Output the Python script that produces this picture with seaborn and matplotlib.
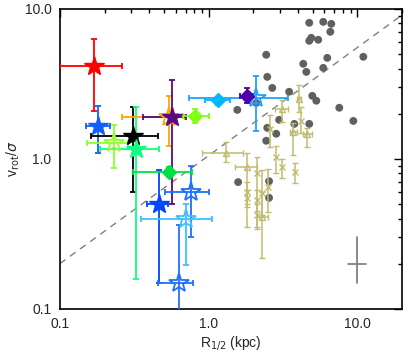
import numpy as np
import pandas as pd
import matplotlib
matplotlib.use('Agg')
import matplotlib.pyplot as plt
import seaborn as sns
from matplotlib.ticker import LogLocator, FixedLocator, FixedFormatter, NullFormatter

# --- data ---
# coloured galaxies: R_1/2 (kpc), v_rot/sigma, with asymmetric error ranges
gal_r = [0.169, 0.180, 0.310, 0.231, 0.325, 0.542, 0.568, 0.464, 0.762, 0.705, 0.633, 2.09,
         0.811, 0.542, 1.16, 1.82]
gal_v = [4.17, 1.66, 1.42, 1.28, 1.17, 1.91, 1.91, 0.50, 0.60, 0.40, 0.149, 2.55,
         1.94, 0.82, 2.47, 2.63]
gal_r_lo = [0.100, 0.150, 0.162, 0.152, 0.186, 0.262, 0.362, 0.385, 0.509, 0.35, 0.457, 0.74,
            0.673, 0.31, 0.95, 1.63]
gal_r_hi = [0.262, 0.217, 0.457, 0.287, 0.463, 0.695, 0.70, 0.533, 1.0, 1.05, 0.786, 3.43,
            1.0, 0.774, 1.39, 1.99]
gal_v_lo = [2.09, 1.10, 0.60, 0.87, 0.158, 1.22, 0.50, 0.149, 0.30, 0.197, 0.05, 1.54,
            1.74, 0.76, 2.30, 2.36]
gal_v_hi = [6.3, 2.26, 2.22, 1.69, 2.2, 2.63, 3.36, 0.845, 0.90, 0.50, 0.363, 3.58,
            2.15, 0.88, 2.60, 2.95]
gal_kind = ['star', 'star', 'star', 'ostar', 'star', 'ostar', 'star', 'star', 'ostar', 'ostar', 'ostar', 'ostar',
            'diamond', 'diamond', 'diamond', 'diamond']
gal_color = ['#FF0000', '#1060FF', '#000000', '#90FF30', '#10FF80', '#FFA500', '#5A0A80', '#0045FF',
             '#1E6EFF', '#40C0FF', '#2070FF', '#20A0FF',
             '#80FF10', '#00E040', '#00B8FF', '#5000A8']

# khaki comparison sample (triangles have x and y errors)
tri_r = [1.31, 1.82, 2.29, 3.13, 3.71, 4.61, 4.07]
tri_v = [1.10, 0.88, 0.41, 2.15, 1.51, 1.47, 2.51]
tri_r_lo = [0.905, 1.51, 2.11, 2.80, 3.55, 4.33, 3.95]
tri_r_hi = [1.71, 2.11, 2.52, 3.43, 3.90, 4.96, 4.20]
tri_v_lo = [0.95, 0.35, 0.219, 1.76, 1.06, 1.20, 2.06]
tri_v_hi = [1.29, 1.10, 0.60, 2.47, 1.74, 1.61, 3.11]

# khaki crosses (y errors only)
x_r = [2.60, 4.20, 2.85, 3.13, 3.81, 2.11, 1.82, 1.82, 2.11, 2.29, 2.52, 2.11]
x_v = [1.58, 1.79, 1.03, 0.88, 0.82, 0.81, 0.60, 0.55, 0.53, 0.59, 0.65, 0.42]
x_v_lo = [1.20, 1.49, 0.81, 0.75, 0.69, 0.34, 0.50, 0.48, 0.45, 0.42, 0.44, 0.35]
x_v_hi = [1.96, 2.22, 1.22, 1.00, 0.94, 1.03, 0.70, 0.62, 0.62, 0.84, 0.86, 0.50]

# grey comparison galaxies
grey_r = [4.75, 5.90, 6.68, 6.58, 4.90, 4.75, 5.46, 2.44, 10.97, 6.28, 4.33, 5.90, 4.54, 2.48,
          2.68, 3.48, 4.98, 5.30, 2.09, 1.56, 7.56, 2.98, 9.40, 2.48, 4.75, 3.77, 2.85, 2.44,
          1.58, 2.55, 2.55]
grey_v = [8.07, 8.19, 7.94, 7.03, 6.41, 6.12, 6.22, 4.94, 4.79, 4.71, 4.30, 4.04, 3.80, 3.52,
          2.97, 2.80, 2.63, 2.44, 2.36, 2.12, 2.19, 1.82, 1.79, 1.61, 1.71, 1.71, 1.47, 1.32,
          0.70, 0.71, 0.55]

# dashed reference line end points and typical error cross
line_r = [0.1, 20.0]
line_v = [0.2, 9.1]
cross_r, cross_v = 10.0, 0.2
cross_r_rng = [8.7, 11.5]
cross_v_rng = [0.149, 0.30]

sns.set_style('white')
plt.rcParams['font.family'] = ['Liberation Sans', 'DejaVu Sans']

fig = plt.figure(figsize=(4.07, 3.53), dpi=100)
ax = fig.add_axes([0.147, 0.125, 0.841, 0.850])
ax.set_xscale('log')
ax.set_yscale('log')

# grey sample via seaborn
grey_df = pd.DataFrame({'r': grey_r, 'v': grey_v})
sns.scatterplot(data=grey_df, x='r', y='v', ax=ax, color='#606060', s=32,
                edgecolor='none', zorder=3)

ax.plot(line_r, line_v, ls=(0, (5, 4)), color='#808080', lw=1.0, zorder=2)

khaki = '#C2BC70'
tri_r_a = np.array(tri_r)
tri_v_a = np.array(tri_v)
ax.errorbar(tri_r_a, tri_v_a,
            xerr=[tri_r_a - np.array(tri_r_lo), np.array(tri_r_hi) - tri_r_a],
            yerr=[tri_v_a - np.array(tri_v_lo), np.array(tri_v_hi) - tri_v_a],
            fmt='^', mfc='none', mec=khaki, ms=5, mew=1.0, ecolor=khaki,
            elinewidth=1.1, capsize=2, capthick=1.1, zorder=4)
x_r_a = np.array(x_r)
x_v_a = np.array(x_v)
ax.errorbar(x_r_a, x_v_a,
            yerr=[x_v_a - np.array(x_v_lo), np.array(x_v_hi) - x_v_a],
            fmt='x', mec=khaki, ms=5, mew=1.0, ecolor=khaki,
            elinewidth=1.1, capsize=2, capthick=1.1, zorder=4)

for r, v, rl, rh, vl, vh, kind, c in zip(gal_r, gal_v, gal_r_lo, gal_r_hi,
                                           gal_v_lo, gal_v_hi, gal_kind, gal_color):
    if kind == 'diamond':
        style = dict(fmt='D', mfc=c, mec=c, ms=7)
    elif kind == 'ostar':
        style = dict(fmt='*', mfc='none', mec=c, ms=15, mew=1.3)
    else:
        style = dict(fmt='*', mfc=c, mec=c, ms=15)
    ax.errorbar([r], [v], xerr=[[r - rl], [rh - r]], yerr=[[v - vl], [vh - v]],
                ecolor=c, elinewidth=1.3, capsize=2, capthick=1.3, zorder=5, **style)

ax.plot(cross_r_rng, [cross_v, cross_v], color='#808080', lw=1.3)
ax.plot([cross_r, cross_r], cross_v_rng, color='#808080', lw=1.3)

ax.set_xlim(0.1, 20)
ax.set_ylim(0.1, 10)
ax.xaxis.set_major_locator(FixedLocator([0.1, 1.0, 10.0]))
ax.xaxis.set_major_formatter(FixedFormatter(['0.1', '1.0', '10.0']))
ax.yaxis.set_major_locator(FixedLocator([0.1, 1.0, 10.0]))
ax.yaxis.set_major_formatter(FixedFormatter(['0.1', '1.0', '10.0']))
ax.xaxis.set_minor_locator(LogLocator(base=10, subs=np.arange(2, 10)))
ax.yaxis.set_minor_locator(LogLocator(base=10, subs=np.arange(2, 10)))
ax.xaxis.set_minor_formatter(NullFormatter())
ax.yaxis.set_minor_formatter(NullFormatter())
ax.tick_params(which='both', direction='in', top=True, right=True, width=1.0, color='black')
ax.tick_params(which='major', length=6, labelsize=10, pad=6)
ax.tick_params(which='minor', length=3)
for s in ax.spines.values():
    s.set_linewidth(1.2)
    s.set_color('black')

ax.set_xlabel(r'R$_{1/2}$ (kpc)', fontsize=10, labelpad=2)
ax.set_ylabel(r'v$_{\rm rot}$/$\sigma$', fontsize=10, labelpad=2)

fig.savefig('out.png', dpi=100)
